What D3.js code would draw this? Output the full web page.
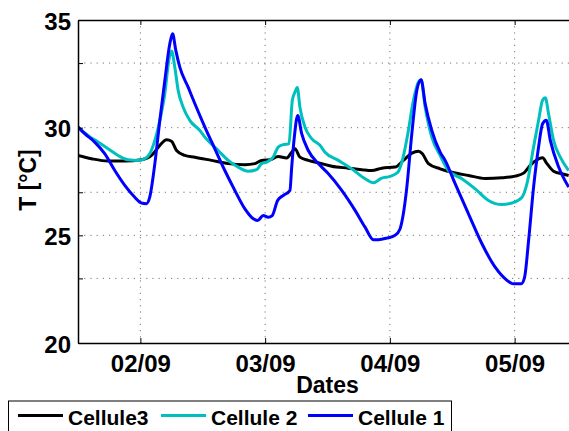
<!DOCTYPE html>
<html>
<head>
<meta charset="utf-8">
<script src="https://cdn.jsdelivr.net/npm/d3@7"></script>
<style>
  body { margin: 0; background: #fff; }
  svg { display: block; font-family: "Liberation Sans", Arial, sans-serif; font-weight: bold; }
</style>
</head>
<body>
<svg id="chart" width="569" height="431"></svg>
<script>
// jours (1.5 = 01/09 12h) et températures
const cellule1Days = [1.500,1.554,1.634,1.714,1.795,1.875,1.955,2.009,2.049,2.075,2.116,2.156,2.196,2.236,2.258,2.284,2.316,2.383,2.437,2.517,2.597,2.677,2.757,2.838,2.905,2.940,2.985,3.025,3.057,3.100,3.145,3.199,3.213,3.234,3.261,3.293,3.346,3.440,3.507,3.614,3.721,3.801,3.868,3.908,3.975,4.042,4.082,4.108,4.136,4.176,4.216,4.250,4.283,4.336,4.403,4.443,4.523,4.630,4.738,4.844,4.925,4.991,5.053,5.080,5.112,5.152,5.192,5.224,5.254,5.286,5.353,5.433];
const cellule1Temp = [30.03,29.72,29.33,28.79,28.01,27.32,26.77,26.50,26.47,26.77,28.33,30.34,32.19,33.90,34.36,33.59,32.81,31.88,31.11,30.03,29.02,28.01,27.09,26.23,25.77,25.69,25.92,25.84,25.92,26.62,26.85,27.09,28.17,29.56,30.57,29.72,28.94,28.25,27.86,27.09,26.16,25.38,24.80,24.80,24.87,25.00,25.31,26.00,27.24,29.72,31.73,32.23,31.11,29.87,28.86,28.48,27.40,26.00,24.61,23.52,22.98,22.75,22.75,23.06,24.76,27.24,29.10,30.18,30.34,29.41,28.17,27.24];

const cellule2Days = [1.500,1.580,1.661,1.741,1.821,1.901,1.982,2.035,2.075,2.116,2.156,2.196,2.228,2.250,2.276,2.303,2.343,2.396,2.477,2.517,2.624,2.704,2.784,2.864,2.932,2.972,3.012,3.065,3.105,3.145,3.191,3.218,3.239,3.258,3.279,3.319,3.373,3.440,3.480,3.587,3.694,3.801,3.868,3.935,4.002,4.064,4.100,4.144,4.189,4.229,4.250,4.283,4.336,4.403,4.470,4.577,4.684,4.791,4.898,4.978,5.059,5.099,5.152,5.192,5.224,5.246,5.272,5.312,5.366,5.433];
const cellule2Temp = [30.03,29.64,29.33,29.02,28.71,28.51,28.48,28.56,28.79,29.41,30.34,31.58,33.12,33.56,32.81,31.73,30.95,30.34,29.87,29.56,28.94,28.48,28.17,27.98,28.05,28.33,28.40,28.63,29.10,29.21,29.25,31.27,31.65,31.86,30.95,30.03,29.49,29.18,28.86,28.48,28.09,27.63,27.44,27.66,27.74,27.93,28.48,29.72,31.27,32.12,32.23,30.95,29.56,28.71,28.01,27.63,27.16,26.62,26.43,26.50,26.77,27.40,29.10,30.34,31.27,31.39,30.65,29.41,28.63,28.01];

const cellule3Days = [1.500,1.608,1.741,1.875,2.009,2.089,2.156,2.210,2.250,2.290,2.356,2.437,2.571,2.704,2.838,2.918,2.972,3.039,3.105,3.173,3.213,3.239,3.279,3.346,3.440,3.534,3.667,3.775,3.855,3.935,4.042,4.108,4.176,4.229,4.261,4.309,4.403,4.497,4.630,4.764,4.898,5.005,5.072,5.125,5.179,5.224,5.259,5.312,5.380,5.433];
const cellule3Temp = [28.71,28.56,28.45,28.45,28.51,28.71,29.18,29.44,29.37,28.94,28.71,28.63,28.48,28.33,28.28,28.33,28.48,28.51,28.66,28.59,28.86,29.02,28.63,28.48,28.35,28.21,28.12,28.05,28.01,28.12,28.17,28.48,28.82,28.91,28.79,28.33,28.09,27.93,27.78,27.64,27.67,27.75,27.89,28.25,28.51,28.60,28.33,27.98,27.86,27.78];

const dayTicks = [2, 3, 4, 5];
const dayLabels = ["02/09", "03/09", "04/09", "05/09"];
const tempTicks = [20, 23, 25, 27, 30, 33, 35];
const tempLabels = [20, 25, 30, 35];

const seriesNames = ["Cellule3", "Cellule 2", "Cellule 1"];
const seriesColors = ["#000000", "#00bfbf", "#0000ff"];

const svg = d3.select("#chart");
const plotLeft = 78, plotTop = 20, plotRight = 577, plotBottom = 343;

const x = d3.scaleLinear().domain([1.5, 5.5]).range([plotLeft, plotRight]);
const y = d3.scaleLinear().domain([20, 35]).range([plotBottom, plotTop]);

// grille pointillée
const grid = svg.append("g").attr("stroke", "#777").attr("stroke-width", 1)
    .attr("stroke-dasharray", "1.2,5");
grid.selectAll("line.v").data(dayTicks).enter().append("line")
    .attr("x1", d => x(d)).attr("x2", d => x(d))
    .attr("y1", plotTop).attr("y2", plotBottom);
grid.selectAll("line.h").data(tempTicks.filter(t => t > 20 && t < 35)).enter().append("line")
    .attr("x1", plotLeft).attr("x2", plotRight)
    .attr("y1", d => y(d)).attr("y2", d => y(d));

// courbes
svg.append("clipPath").attr("id", "clip").append("rect")
    .attr("x", plotLeft).attr("y", plotTop)
    .attr("width", plotRight - plotLeft).attr("height", plotBottom - plotTop);

const series = [
    { name: seriesNames[0], color: seriesColors[0], days: cellule3Days, temp: cellule3Temp },
    { name: seriesNames[1], color: seriesColors[1], days: cellule2Days, temp: cellule2Temp },
    { name: seriesNames[2], color: seriesColors[2], days: cellule1Days, temp: cellule1Temp }
];

const line = d3.line()
    .x(d => x(d[0]))
    .y(d => y(d[1]))
    .curve(d3.curveMonotoneX);

svg.append("g").attr("clip-path", "url(#clip)")
    .selectAll("path").data(series).enter().append("path")
    .attr("fill", "none")
    .attr("stroke", d => d.color)
    .attr("stroke-width", 3)
    .attr("stroke-linejoin", "round")
    .attr("d", d => line(d.days.map((v, i) => [v, d.temp[i]])));

// axes (ticks vers l'intérieur)
const xAxis = d3.axisBottom(x).tickValues(dayTicks)
    .tickFormat((d, i) => dayLabels[i]).tickSizeInner(-5).tickSizeOuter(0).tickPadding(12);
const yAxis = d3.axisLeft(y).tickValues(tempTicks)
    .tickFormat(d => tempLabels.includes(d) ? d : "").tickSizeInner(-5).tickSizeOuter(0).tickPadding(7);

const gx = svg.append("g").attr("transform", `translate(0,${plotBottom})`).call(xAxis);
const gy = svg.append("g").attr("transform", `translate(${plotLeft},0)`).call(yAxis);
svg.append("g").attr("transform", `translate(0,${plotTop})`)
    .call(d3.axisTop(x).tickValues(dayTicks).tickFormat("").tickSizeInner(-5).tickSizeOuter(0));

[gx, gy].forEach(g => {
    g.selectAll("text").attr("fill", "#000").style("font-size", "24px").style("font-weight", "bold")
        .style("font-family", "'Liberation Sans', Arial, sans-serif");
});
gx.selectAll("text").attr("dy", "0.71em");
gy.selectAll("text").attr("dy", "0.38em");
svg.selectAll(".domain").attr("stroke", "#000").attr("stroke-width", 1.5);

// titres des axes
svg.append("text").attr("x", (plotLeft + plotRight) / 2).attr("y", 393)
    .attr("text-anchor", "middle").style("font-size", "23px").text("Dates");
svg.append("text").attr("transform", "translate(36,180) rotate(-90)")
    .attr("text-anchor", "middle").style("font-size", "23px").text("T [°C]");

// légende
const legend = svg.append("g");
legend.append("rect").attr("x", 8.5).attr("y", 401).attr("width", 443).attr("height", 40)
    .attr("fill", "#fff").attr("stroke", "#000").attr("stroke-width", 1);
const legendX = [18, 161, 308];
series.forEach((s, i) => {
    legend.append("line").attr("x1", legendX[i]).attr("x2", legendX[i] + 45)
        .attr("y1", 415.5).attr("y2", 415.5)
        .attr("stroke", s.color).attr("stroke-width", 3);
    legend.append("text").attr("x", legendX[i] + 50).attr("y", 425)
        .style("font-size", "21px").text(s.name);
});
</script>
</body>
</html>
